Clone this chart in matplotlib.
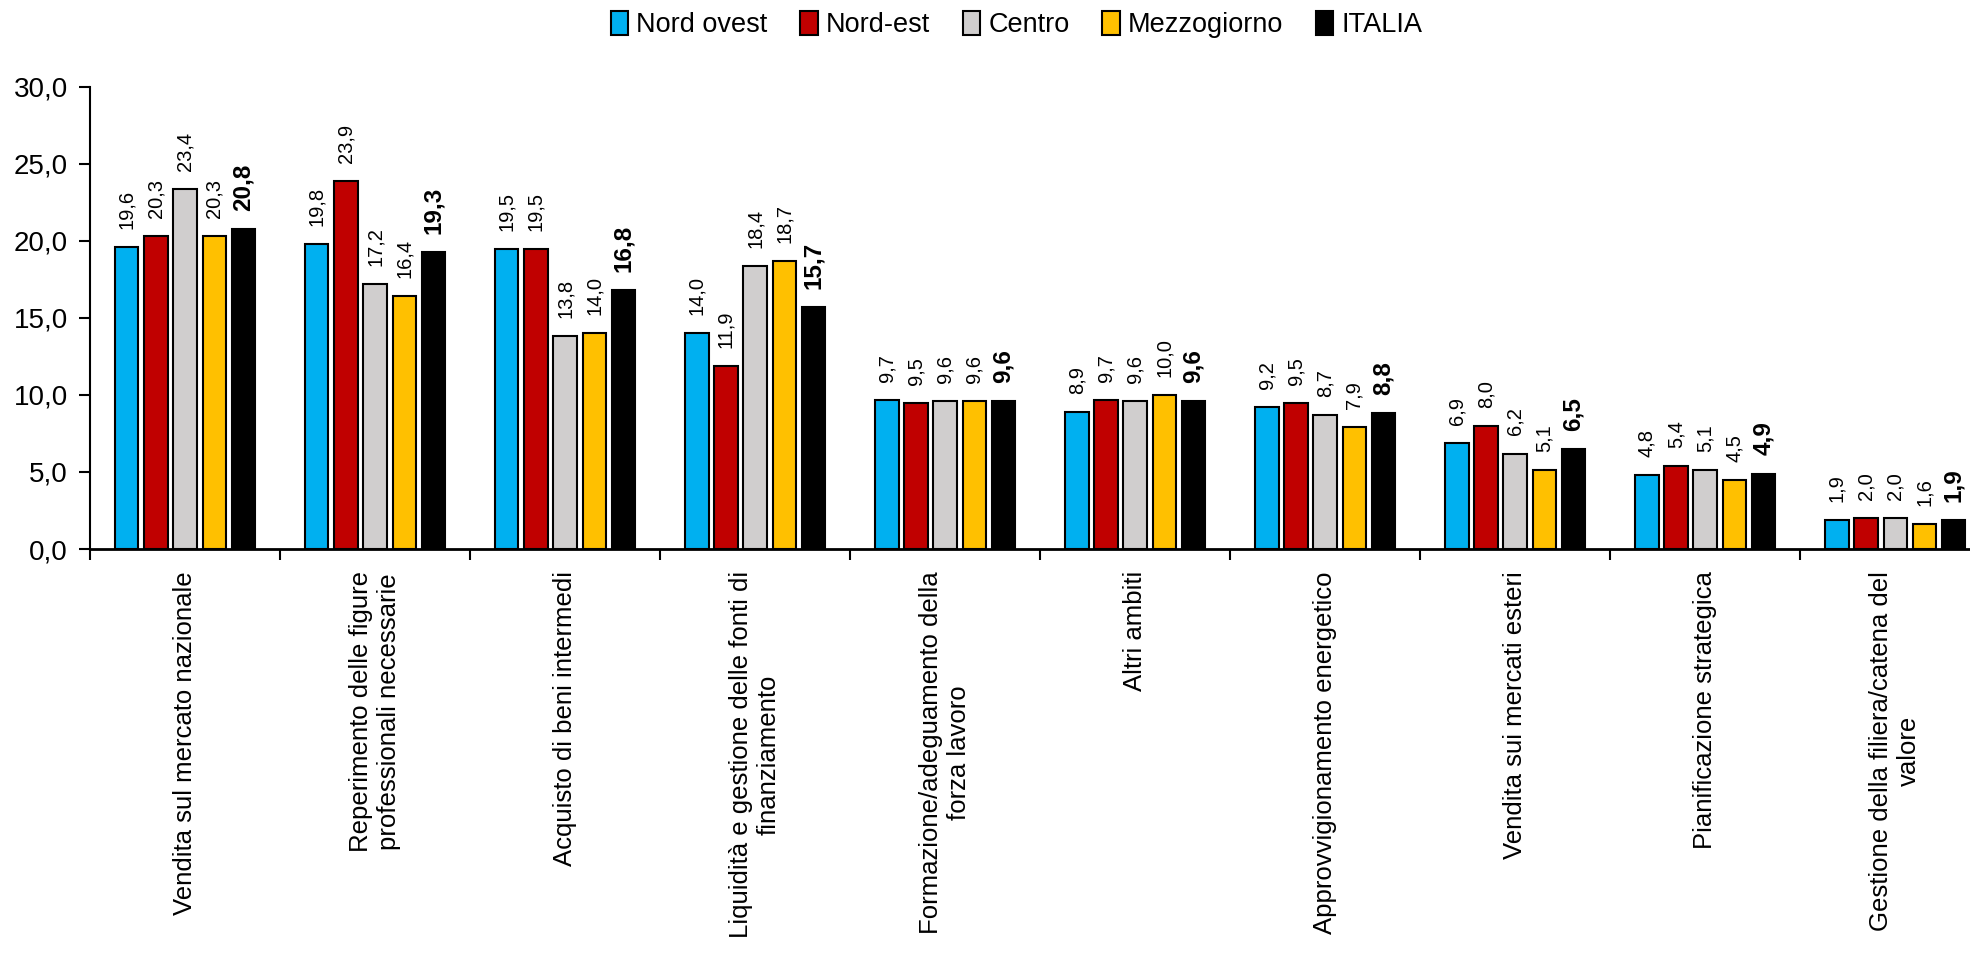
import matplotlib.pyplot as plt
import numpy as np

plt.rcParams['font.family'] = ['Liberation Sans Narrow', 'Liberation Sans', 'DejaVu Sans']

categorie = ['Vendita sul mercato nazionale',
             'Reperimento delle figure\nprofessionali necessarie',
             'Acquisto di beni intermedi',
             'Liquidità e gestione delle fonti di\nfinanziamento',
             'Formazione/adeguamento della\nforza lavoro',
             'Altri ambiti',
             'Approvvigionamento energetico',
             'Vendita sui mercati esteri',
             'Pianificazione strategica',
             'Gestione della filiera/catena del\nvalore']

nord_ovest = [19.6, 19.8, 19.5, 14.0, 9.7, 8.9, 9.2, 6.9, 4.8, 1.9]
nord_est = [20.3, 23.9, 19.5, 11.9, 9.5, 9.7, 9.5, 8.0, 5.4, 2.0]
centro = [23.4, 17.2, 13.8, 18.4, 9.6, 9.6, 8.7, 6.2, 5.1, 2.0]
mezzogiorno = [20.3, 16.4, 14.0, 18.7, 9.6, 10.0, 7.9, 5.1, 4.5, 1.6]
italia = [20.8, 19.3, 16.8, 15.7, 9.6, 9.6, 8.8, 6.5, 4.9, 1.9]

serie = [('Nord ovest', nord_ovest, '#00B0F0'),
         ('Nord-est', nord_est, '#C00000'),
         ('Centro', centro, '#D0CECE'),
         ('Mezzogiorno', mezzogiorno, '#FFC000'),
         ('ITALIA', italia, '#000000')]

fig = plt.figure(figsize=(19.7, 9.63), dpi=100)
# l'asse finisce oltre il bordo destro, come nell'originale
ax = fig.add_axes([0.0457, 0.4299, 1.0102 - 0.0457, 0.9097 - 0.4299])

x = np.arange(len(categorie))
step = 0.153
w = 0.122

for i, (nome, vals, col) in enumerate(serie):
    pos = x + (i - 2) * step
    ax.bar(pos, vals, width=w, color=col, edgecolor='black', linewidth=1.5, label=nome)
    bold = nome == 'ITALIA'
    for xp, v in zip(pos, vals):
        ax.annotate(f'{v:.1f}'.replace('.', ','), (xp, v), xytext=(0, 13),
                    textcoords='offset points', rotation=90, ha='center', va='bottom',
                    fontsize=17.5 if bold else 14.5, fontweight='bold' if bold else 'normal')

ax.set_xlim(-0.5, len(categorie) - 0.5)
ax.set_ylim(0, 30)
yt = np.arange(0, 31, 5)
ax.set_yticks(yt)
ax.set_yticklabels([f'{t:.1f}'.replace('.', ',') for t in yt], fontsize=20)

ax.set_xticks(x)
ax.set_xticklabels(categorie, rotation=90, fontsize=18.5, ha='center', va='top', multialignment='center')
ax.tick_params(axis='x', which='major', length=0, pad=16)
ax.set_xticks(np.arange(-0.5, len(categorie)), minor=True)
ax.tick_params(axis='x', which='minor', length=8, width=1.5, direction='out')
ax.tick_params(axis='y', length=8, width=1.5, direction='out', pad=8)

for s in ['top', 'right']:
    ax.spines[s].set_visible(False)
ax.spines['left'].set_linewidth(1.5)
ax.spines['bottom'].set_linewidth(2)

fig.legend(loc='upper center', bbox_to_anchor=(0.516, 1.014), ncol=5, frameon=False,
           fontsize=19.5, handlelength=0.65, handleheight=1.0, handletextpad=0.3, columnspacing=1.2)

plt.savefig('out.png', dpi=100)
